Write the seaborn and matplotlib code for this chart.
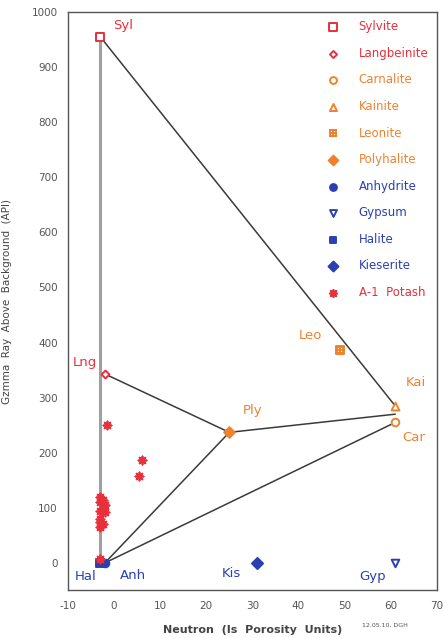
import numpy as np
import pandas as pd
import matplotlib
matplotlib.use("Agg")
import matplotlib.pyplot as plt
import seaborn as sns
from matplotlib.ticker import MultipleLocator

# Mineral end members (neutron porosity vs gamma ray)
minerals = ['Sylvite', 'Langbeinite', 'Carnalite', 'Kainite', 'Leonite', 'Polyhalite',
            'Anhydrite', 'Gypsum', 'Halite', 'Kieserite']
abbrev = ['Syl', 'Lng', 'Car', 'Kai', 'Leo', 'Ply', 'Anh', 'Gyp', 'Hal', 'Kis']
neutron = [-3, -2, 61, 61, 49, 25, -2, 61, -3, 31]
gamma = [955, 343, 255, 285, 387, 237, 0, 0, 0, 0]

# A-1 Potash well samples
potash_neutron = [-1.5, 6, 5.5, -3, -2.5, -3, -2, -2.5, -3, -2, -3, -3, -2.5, -3, -3]
potash_gamma = [250, 187, 158, 120, 115, 110, 105, 100, 95, 92, 80, 75, 70, 65, 7]

# tie lines between end members ("KC" = midpoint of Kainite/Carnalite)
tie_lines = [('Syl', 'Kai'), ('Lng', 'Ply'), ('Ply', 'Anh'), ('Anh', 'Car'), ('Ply', 'KC')]

red = '#e8303c'
orange = '#f0822e'
blue = '#2b3fb4'

styles = {
    'Sylvite':     dict(marker='s', color=red, open=True, s=38),
    'Langbeinite': dict(marker='D', color=red, open=True, s=16),
    'Carnalite':   dict(marker='o', color=orange, open=True, s=30),
    'Kainite':     dict(marker='^', color=orange, open=True, s=32),
    'Leonite':     dict(marker=r'$\boxplus$', color=orange, open=False, s=30),
    'Polyhalite':  dict(marker='D', color=orange, open=False, s=30),
    'Anhydrite':   dict(marker='o', color=blue, open=False, s=30),
    'Gypsum':      dict(marker='v', color=blue, open=True, s=30),
    'Halite':      dict(marker='s', color=blue, open=False, s=30),
    'Kieserite':   dict(marker='D', color=blue, open=False, s=32),
}

# label offsets (neutron, gamma) relative to each point
label_offset = {
    'Syl': (5, 20), 'Lng': (-4.3, 20), 'Car': (4, -28), 'Kai': (4.4, 43),
    'Leo': (-6.5, 26), 'Ply': (5, 39), 'Anh': (6, -22), 'Gyp': (-5, -24),
    'Hal': (-3.2, -25), 'Kis': (-5.5, -20),
}

df = pd.DataFrame({'mineral': minerals, 'abbrev': abbrev, 'neutron': neutron, 'gamma': gamma})
pos = {a: (x, y) for a, x, y in zip(abbrev, neutron, gamma)}
pos['KC'] = ((pos['Kai'][0] + pos['Car'][0]) / 2, (pos['Kai'][1] + pos['Car'][1]) / 2)

sns.set_style('white')
plt.rcParams['font.family'] = ['DejaVu Sans']
plt.rcParams['axes.unicode_minus'] = False

fig = plt.figure(figsize=(4.43, 6.38), dpi=100)
ax = fig.add_axes([0.1535, 0.0745, 0.8323, 0.9067])

# vertical grey line Sylvite -> Halite
ax.plot([pos['Syl'][0], pos['Hal'][0]], [pos['Syl'][1], pos['Hal'][1]],
        color='#a0a0a0', lw=2.2, zorder=1)
for a, b in tie_lines:
    ax.plot([pos[a][0], pos[b][0]], [pos[a][1], pos[b][1]], color='#3a3a3a', lw=1.1, zorder=2)

for _, row in df.iterrows():
    st = styles[row['mineral']]
    sns.scatterplot(x=[row['neutron']], y=[row['gamma']], marker=st['marker'], s=st['s'],
                    facecolor='white' if st['open'] else st['color'], edgecolor=st['color'],
                    linewidth=1.4, ax=ax, label=row['mineral'], zorder=3)

ax.scatter(potash_neutron, potash_gamma, marker=(8, 2, 0), s=34, color=red,
           linewidths=1.3, label='A-1  Potash', zorder=4)

label_colors = {'Syl': red, 'Lng': red, 'Car': orange, 'Kai': orange, 'Leo': orange,
                'Ply': orange, 'Anh': blue, 'Gyp': blue, 'Hal': blue, 'Kis': blue}
for a in abbrev:
    dx, dy = label_offset[a]
    ax.text(pos[a][0] + dx, pos[a][1] + dy, a, color=label_colors[a], fontsize=9.5,
            ha='center', va='center')

ax.set_xlim(-10, 70)
ax.set_ylim(-50, 1000)
ax.xaxis.set_major_locator(MultipleLocator(10))
ax.xaxis.set_minor_locator(MultipleLocator(5))
ax.yaxis.set_major_locator(MultipleLocator(100))
ax.yaxis.set_minor_locator(MultipleLocator(50))
ax.set_yticks(np.arange(0, 1001, 100))
ax.tick_params(which='major', direction='out', length=4, width=0.8, colors='#444444',
               labelsize=7.5, labelcolor='#555555')
ax.tick_params(which='minor', direction='in', length=3, width=0.8, colors='#444444')
for sp in ax.spines.values():
    sp.set_color('#555555')
    sp.set_linewidth(1.0)

ax.set_xlabel('Neutron  (Is  Porosity  Units)', fontsize=8, color='#444444',
              fontweight='bold', labelpad=10)
ax.set_ylabel('Gzmma  Ray  Above  Background  (API)', fontsize=7.5, color='#444444',
              labelpad=14)

leg = ax.legend(loc='upper right', frameon=False, fontsize=8.5, labelspacing=1.15,
                handletextpad=1.6, borderaxespad=0.3, handlelength=1.2, markerscale=0.9)
text_colors = [red, red, orange, orange, orange, orange, blue, blue, blue, blue, red]
for t, c in zip(leg.get_texts(), text_colors):
    t.set_color(c)

fig.text(0.87, 0.017, '12.05.10, DGH', fontsize=4.5, color='#555555', ha='center')

fig.savefig('out.png', dpi=100)
